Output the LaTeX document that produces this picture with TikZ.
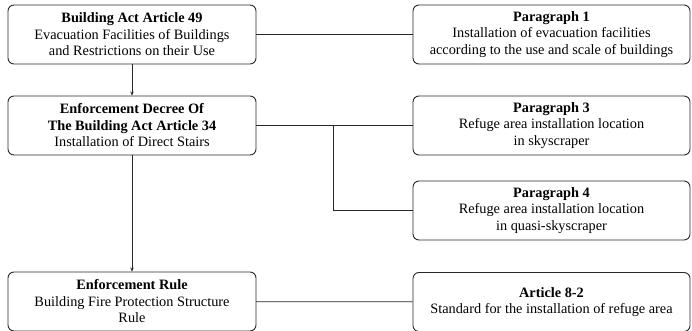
\documentclass[tikz,border=0pt]{standalone}
\usepackage{fontspec}
\setmainfont{Liberation Serif}
\usepackage{tikz}
\usetikzlibrary{positioning,calc}
\usetikzlibrary{arrows.meta}
\definecolor{LineGray}{RGB}{40,40,40}
\tikzset{
  law/.style={draw=LineGray,fill=white,rounded corners=6pt,line width=0.9pt,
    minimum width=248pt,minimum height=59pt,align=center,inner sep=1pt,
    font=\fontsize{14.3}{16.5}\selectfont},
  para/.style={law,minimum width=277pt},
  link/.style={draw=LineGray,line width=0.8pt},
}
\tikzset{flow/.style={link,-{Stealth[length=4pt,width=3.5pt]}}}

\begin{document}
\begin{tikzpicture}[x=1pt,y=-1pt]
\useasboundingbox (0,0) rectangle (692,331);
\node[law] (act) at (132,34.5) {\textbf{Building Act Article 49}\\Evacuation Facilities of Buildings\\and Restrictions on their Use};
\node[law] (decree) at (132,125.5) {\textbf{Enforcement Decree Of}\\\textbf{The Building Act Article 34}\\Installation of Direct Stairs};
\node[law] (rule) at (132,301.5) {\textbf{Enforcement Rule}\\Building Fire Protection Structure\\Rule};
\node[para] (p1) at (551.5,34.5) {\textbf{Paragraph 1}\\Installation of evacuation facilities\\according to the use and scale of buildings};
\node[para] (p3) at (551.5,125.5) {\textbf{Paragraph 3}\\Refuge area installation location\\in skyscraper};
\node[para] (p4) at (551.5,210.5) {\textbf{Paragraph 4}\\Refuge area installation location\\in quasi-skyscraper};
\node[para] (art) at (551.5,302) {\textbf{Article 8-2}\\Standard for the installation of refuge area};
\coordinate (fork) at (333,125.5);
\draw[flow] (act) -- (decree);
\draw[flow] (decree) -- (rule);
\draw[link] (act) -- (p1);
\draw[link] (decree) -- (p3);
\draw[link] (fork) |- (p4.west);
\draw[link] (rule) -- (art);
\end{tikzpicture}
\end{document}
